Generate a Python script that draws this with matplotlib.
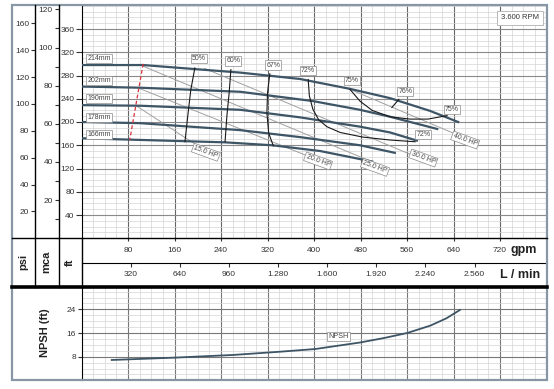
import matplotlib
matplotlib.use('Agg')
import matplotlib.pyplot as plt
from matplotlib.lines import Line2D
from matplotlib.patches import Rectangle
from matplotlib.ticker import MultipleLocator

plt.rcParams['font.family'] = ['Liberation Sans', 'DejaVu Sans']

W, H = 554, 389

# impeller curves, gpm / ft
d214_q = [0, 106, 170, 273, 376, 462, 531, 600, 648]
d214_h = [298, 298, 293, 285, 274, 257, 241, 219, 200]
d202_q = [0, 101, 273, 398, 479, 531, 612]
d202_h = [261, 259, 252, 236, 221, 209, 188]
d190_q = [0, 101, 273, 376, 479, 531, 577]
d190_h = [229, 228, 221, 208, 192, 182, 168]
d178_q = [0, 101, 273, 376, 479, 539]
d178_h = [200, 198, 186, 174, 160, 147]
d166_q = [0, 178, 247, 328, 411, 500]
d166_h = [172, 167, 165, 160, 150, 132]
diam_names = ['214mm', '202mm', '190mm', '178mm', '166mm']
diam_label_h = [310, 272, 241, 208, 179]

# efficiency curves
e50_q = [195, 188, 183, 178]
e50_h = [293, 255, 212, 166]
e60_q = [257, 254, 250, 247]
e60_h = [290, 250, 209, 166]
e67_q = [324, 320, 319, 322, 330]
e67_h = [283, 250, 216, 181, 159]
e72_q = [390, 392, 398, 408, 422, 445, 484, 531, 574]
e72_h = [273, 245, 222, 204, 192, 182, 174, 169, 166]
e75_q = [462, 479, 500, 531, 565, 596, 629]
e75_h = [256, 236, 220, 209, 205, 205, 211]
e76_q = [534, 546]
e76_h = [225, 239]
eff_names = ['50%', '60%', '67%', '72%', '75%', '76%', '75%', '72%']
eff_lq = [202, 261, 330, 390, 465, 557, 637, 588]
eff_lh = [310, 305, 298, 289, 271, 252, 221, 178]

# min flow line
red_q = [106, 83]
red_h = [300, 169]

# power lines
hp15_q = [94, 200]
hp15_h = [228, 159]
hp20_q = [99, 393]
hp20_h = [258, 140]
hp25_q = [106, 513]
hp25_h = [296, 126]
hp30_q = [212, 569]
hp30_h = [292, 143]
hp40_q = [453, 651]
hp40_h = [260, 176]
hp_names = ['15.0 HP', '20.0 HP', '25.0 HP', '30.0 HP', '40.0 HP']
hp_lq = [214, 407, 505, 588, 660]
hp_lh = [148, 133, 122, 138, 169]

# NPSH
npsh_q = [52, 161, 261, 342, 402, 479, 520, 560, 600, 628, 651]
npsh_h = [6.9, 7.7, 8.6, 9.7, 10.6, 12.8, 14.3, 16.0, 18.5, 21.0, 23.8]

lmin_ticks = [320, 640, 960, 1280, 1600, 1920, 2240, 2560]
lmin_labels = ['320', '640', '960', '1.280', '1.600', '1.920', '2.240', '2.560']

fig = plt.figure(figsize=(W / 100, H / 100), dpi=100)


def fbox(x0, y0, x1, y1):
    return [x0 / W, 1 - y1 / H, (x1 - x0) / W, (y1 - y0) / H]


def fline(x0, y0, x1, y1, **kw):
    fig.add_artist(Line2D([x0 / W, x1 / W], [1 - y0 / H, 1 - y1 / H], **kw))


framec = '#8797a6'
curvec = '#3e5566'
tc = '#333333'

# main chart
ax = fig.add_axes(fbox(81.5, 5.75, 546.5, 238.25))
ax.set_xlim(0, 800)
ax.set_ylim(0, 400)
ax.set_xticks(range(80, 800, 80))
ax.set_yticks(range(40, 400, 40))
ax.xaxis.set_minor_locator(MultipleLocator(20))
ax.yaxis.set_minor_locator(MultipleLocator(10))
ax.grid(which='minor', color='#d4d4d4', lw=0.5)
ax.xaxis.grid(True, which='major', color='#666666', lw=0.8)
ax.yaxis.grid(True, which='major', color='#8a8a8a', lw=0.8)
ax.set_axisbelow(True)
ax.tick_params(which='minor', length=0)
ax.tick_params(axis='y', length=4, width=0.8, labelsize=6, colors=tc, pad=1)
ax.tick_params(axis='x', length=2, width=0.8, labelsize=6, colors=tc, pad=4.5)
for s in ['top', 'right']:
    ax.spines[s].set_visible(False)
ax.spines['left'].set_color('black')
ax.spines['bottom'].set_visible(False)

for q, h in [(d214_q, d214_h), (d202_q, d202_h), (d190_q, d190_h),
             (d178_q, d178_h), (d166_q, d166_h)]:
    ax.plot(q, h, color=curvec, lw=1.6, zorder=4)

for q, h in [(hp15_q, hp15_h), (hp20_q, hp20_h), (hp25_q, hp25_h),
             (hp30_q, hp30_h), (hp40_q, hp40_h)]:
    ax.plot(q, h, color='#a0a0a0', lw=0.7, zorder=3)

for q, h in [(e50_q, e50_h), (e60_q, e60_h), (e67_q, e67_h), (e72_q, e72_h),
             (e75_q, e75_h), (e76_q, e76_h)]:
    ax.plot(q, h, color='#1a1a1a', lw=0.8, zorder=5)

ax.plot(red_q, red_h, color='#d9323a', lw=0.9, ls=(0, (3, 2)), zorder=5)

box = dict(boxstyle='square,pad=0.15', fc='white', ec='#8a8a8a', lw=0.5)
for name, h in zip(diam_names, diam_label_h):
    ax.text(10, h, name, fontsize=5, color='#444', ha='left', va='center', bbox=box, zorder=6)
for name, q, h in zip(eff_names, eff_lq, eff_lh):
    ax.text(q, h, name, fontsize=5, color='#444', ha='center', va='center', bbox=box, zorder=6)
for name, q, h in zip(hp_names, hp_lq, hp_lh):
    ax.text(q, h, name, fontsize=5, color='#444', ha='center', va='center', rotation=-20,
            bbox=box, zorder=6)
ax.text(754, 379, '3.600 RPM', fontsize=5.5, color='#333', ha='center', va='center',
        bbox=dict(boxstyle='square,pad=0.5', fc='white', ec='#b0b0b0', lw=0.6), zorder=6)

# pressure scales
psi = ax.secondary_yaxis(-46.5 / 465, functions=(lambda f: f / 2.31, lambda p: p * 2.31))
psi.set_yticks(range(20, 161, 20))
psi.tick_params(length=3, width=0.8, labelsize=6, colors=tc, pad=1)
psi.spines['left'].set_visible(False)

mca = ax.secondary_yaxis(-23 / 465, functions=(lambda f: f / 3.281, lambda m: m * 3.281))
mca.set_yticks(range(20, 121, 20))
mca.yaxis.set_minor_locator(MultipleLocator(10))
mca.tick_params(length=3, width=0.8, labelsize=6, colors=tc, pad=1)
mca.tick_params(which='minor', length=3, width=0.8, colors=tc)
mca.spines['left'].set_visible(False)

# L/min scale
lm = ax.secondary_xaxis(-(262.5 - 238.25) / 232.5, functions=(lambda q: q * 3.785, lambda l: l / 3.785))
lm.set_xticks(lmin_ticks, labels=lmin_labels)
lm.tick_params(length=3, width=0.8, labelsize=6, colors=tc, pad=3)
lm.spines['bottom'].set_color('black')

# NPSH chart
axn = fig.add_axes(fbox(81.5, 285.7, 546.5, 380.4))
axn.set_xlim(0, 800)
axn.set_ylim(0, 32)
axn.set_xticks(range(80, 800, 80))
axn.set_xticklabels([])
axn.set_yticks([8, 16, 24])
axn.xaxis.set_minor_locator(MultipleLocator(20))
axn.yaxis.set_minor_locator(MultipleLocator(2))
axn.grid(which='minor', color='#d4d4d4', lw=0.5)
axn.grid(which='major', color='#777777', lw=0.8)
axn.set_axisbelow(True)
axn.tick_params(which='minor', length=0)
axn.tick_params(axis='x', length=0)
axn.tick_params(axis='y', length=3, width=0.8, labelsize=6, colors=tc, pad=1)
for s in ['top', 'right', 'bottom']:
    axn.spines[s].set_visible(False)
axn.plot(npsh_q, npsh_h, color=curvec, lw=1.3)
axn.text(442, 14.8, 'NPSH', fontsize=5.2, color='#444', ha='center', va='center', bbox=box)

# table lines and frame
fline(12, 238.25, 546.5, 238.25, color='black', lw=1)
fline(12, 287, 546.5, 287, color='black', lw=2.6)
fline(35, 5, 35, 287, color='black', lw=1)
fline(58.5, 5, 58.5, 287, color='black', lw=1)
fline(81.5, 238, 81.5, 287, color='black', lw=1)
fig.add_artist(Rectangle((12 / W, 1 - 380.4 / H), 534.5 / W, 375.4 / H, fill=False,
                         ec=framec, lw=1.6, transform=fig.transFigure))

fig.text(23 / W, 1 - 262 / H, 'psi', rotation=90, fontsize=8, fontweight='bold', ha='center', va='center', color='#222')
fig.text(46.5 / W, 1 - 262 / H, 'mca', rotation=90, fontsize=8, fontweight='bold', ha='center', va='center', color='#222')
fig.text(70 / W, 1 - 262 / H, 'ft', rotation=90, fontsize=8, fontweight='bold', ha='center', va='center', color='#222')
fig.text(524 / W, 1 - 250 / H, 'gpm', fontsize=9, fontweight='bold', ha='center', va='center', color='#222')
fig.text(520 / W, 1 - 275 / H, 'L / min', fontsize=9, fontweight='bold', ha='center', va='center', color='#222')
fig.text(45 / W, 1 - 333 / H, 'NPSH (ft)', rotation=90, fontsize=8, fontweight='bold', ha='center', va='center', color='#222')

fig.savefig('out.png', dpi=100)
